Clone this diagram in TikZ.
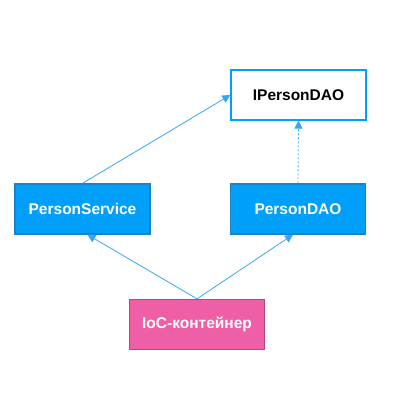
\documentclass[tikz,border=0pt]{standalone}
\usepackage{fontspec}
\setmainfont{Liberation Sans}
\usetikzlibrary{arrows.meta}
\definecolor{bfill}{RGB}{0,160,250}
\definecolor{bdraw}{RGB}{28,130,200}
\definecolor{lineb}{RGB}{50,168,245}
\definecolor{pfill}{RGB}{238,95,167}
\definecolor{pdraw}{RGB}{180,70,128}
\tikzset{
  box/.style={rectangle, minimum width=135pt, minimum height=50pt, line width=1.3pt, font=\fontsize{15.5pt}{18pt}\selectfont\bfseries, inner sep=0pt},
  bluebox/.style={box, fill=bfill, draw=bdraw, text=white},
  whitebox/.style={box, fill=white, draw=bfill, text=black},
  pinkbox/.style={box, fill=pfill, draw=pdraw, text=white},
  conn/.style={draw=lineb, line width=0.8pt, -{Triangle[length=8pt,width=8pt]}},
}
\begin{document}
\begin{tikzpicture}[x=1pt,y=1pt]
\useasboundingbox (0,0) rectangle (418,409);
\node[whitebox] (ip) at (298.5,314) {IPersonDAO};
\node[bluebox] (ps) at (82.5,200) {PersonService};
\node[bluebox] (pd) at (298,200) {PersonDAO};
\node[pinkbox] (ioc) at (197,84.5) {IoC-контейнер};
\draw[conn] (ps.north) -- (ip.west);
\draw[conn, dashed, dash pattern=on 2pt off 2pt] (pd.north) -- (ip.south);
\draw[conn] (ioc.north) -- ([xshift=5pt]ps.south);
\draw[conn] (ioc.north) -- ([xshift=-5pt]pd.south);
\end{tikzpicture}
\end{document}
